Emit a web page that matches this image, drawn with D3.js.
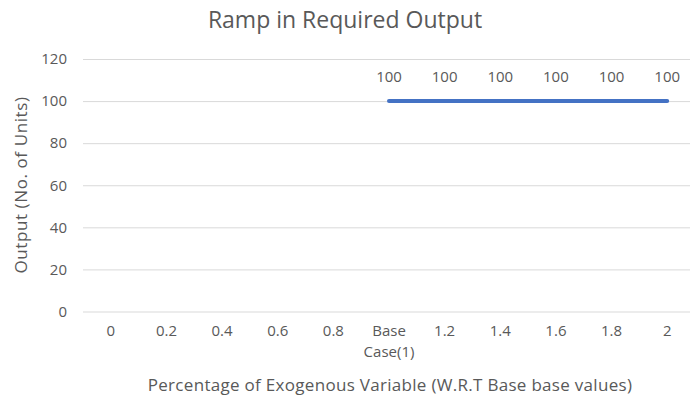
<!DOCTYPE html>
<html><head><meta charset="utf-8">
<script src="https://cdn.jsdelivr.net/npm/d3@7"></script>
<style>body{margin:0;background:#fff;overflow:hidden}svg{display:block}text{font-family:"Open Sans",Lato,sans-serif;fill:#595959}</style>
</head><body><svg id="c" width="690" height="402"></svg>
<script>
const categories = ["0","0.2","0.4","0.6","0.8","Base Case(1)","1.2","1.4","1.6","1.8","2"];
const values = [null,null,null,null,null,100,100,100,100,100,100];
const yTicks = [0,20,40,60,80,100,120];
const title = "Ramp in Required Output";
const xTitle = "Percentage of Exogenous Variable (W.R.T Base base values)";
const yTitle = "Output (No. of Units)";

const svg = d3.select("#c");
const x = d3.scaleBand().domain(categories).range([83, 695]);
const y = d3.scaleLinear().domain([0,120]).range([311.5, 59]);

svg.append("text").attr("x",345).attr("y",28).attr("text-anchor","middle")
  .style("font-size","23px").text(title);

const yAxis = svg.append("g").attr("transform","translate(83,0)")
  .call(d3.axisLeft(y).tickValues(yTicks).tickSize(-612).tickPadding(16));
yAxis.select(".domain").remove();
yAxis.selectAll(".tick line").attr("stroke","#d9d9d9").attr("stroke-width",1);
yAxis.selectAll(".tick text").style("font-size","15px").style("fill","#595959").attr("dy","0.32em");

const xAxis = svg.append("g").attr("transform","translate(0,311.5)")
  .call(d3.axisBottom(x).tickSize(0).tickPadding(15));
xAxis.select(".domain").remove();
xAxis.selectAll(".tick text").style("font-size","15px").style("fill","#595959")
  .each(function(d){
    const parts = d === "Base Case(1)" ? ["Base","Case(1)"] : [d];
    const t = d3.select(this); t.text(null);
    parts.forEach((p,i)=>t.append("tspan").attr("x",0).attr("dy", i===0 ? "0.66em" : "1.35em").text(p));
  });

svg.append("text").attr("x",390).attr("y",391).attr("text-anchor","middle")
  .style("font-size","17px").style("letter-spacing","0.3px").text(xTitle);
svg.append("text").attr("transform","translate(27,185) rotate(-90)").attr("text-anchor","middle")
  .style("font-size","17px").style("letter-spacing","0.6px").text(yTitle);

const pts = categories.map((c,i)=>({c, v: values[i]})).filter(d=>d.v!=null);
const line = d3.line().x(d=>x(d.c)+x.bandwidth()/2).y(d=>y(d.v));
svg.append("path").datum(pts).attr("d",line).attr("fill","none")
  .attr("stroke","#4472C4").attr("stroke-width",4).attr("stroke-linecap","round");

svg.selectAll(".lbl").data(pts).enter().append("text").attr("class","lbl")
  .attr("x",d=>x(d.c)+x.bandwidth()/2).attr("y",d=>y(d.v)-19)
  .attr("text-anchor","middle").style("font-size","15px").text(d=>d.v);
</script></body></html>
